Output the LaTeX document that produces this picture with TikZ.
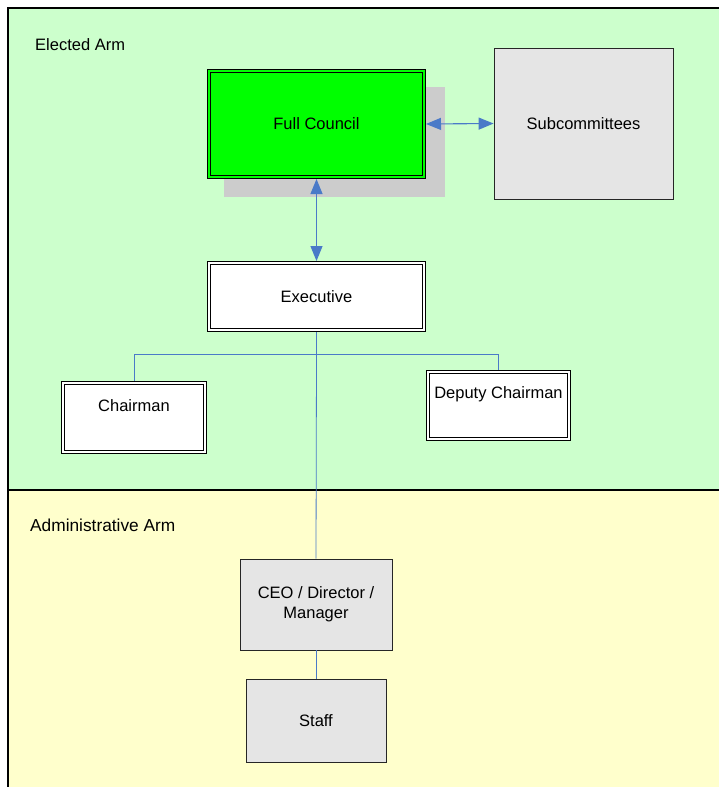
\documentclass[tikz,border=0pt]{standalone}
\usepackage{fontspec}
\setmainfont{Liberation Sans}
\usetikzlibrary{arrows.meta}

\definecolor{electedbg}{HTML}{CCFFCC}
\definecolor{adminbg}{HTML}{FFFFCC}
\definecolor{councilgreen}{HTML}{00FF00}
\definecolor{boxgray}{HTML}{E5E5E5}
\definecolor{shadowgray}{HTML}{CCCCCC}
\definecolor{linkblue}{HTML}{4A7AC8}

\tikzset{
  txt/.style={font=\fontsize{16.5}{20}\selectfont, text=black},
  dbox/.style={txt, draw=black, line width=1.2pt, double=white,
    double distance=1.6pt, outer sep=2pt, inner sep=0pt, align=center},
  gbox/.style={txt, draw=black!85, line width=0.8pt, fill=boxgray,
    inner sep=0pt, align=center},
  conn/.style={draw=linkblue, line width=0.8pt},
  arr/.style={draw=linkblue, line width=1.1pt,
    {Triangle[length=15pt,width=12pt]}-{Triangle[length=15pt,width=12pt]}},
  region/.style={txt, anchor=west, inner sep=0pt}
}

\begin{document}
\begin{tikzpicture}[x=1pt,y=-1pt]
  \useasboundingbox (0,0) rectangle (719,787);
  \fill[white] (0,0) rectangle (719,787);

  % the two arms
  \fill[electedbg] (8,8) rectangle (720,490);
  \fill[adminbg] (8,490) rectangle (720,788);
  \draw[black, line width=1.6pt] (720,8) -- (8,8) -- (8,788);
  \draw[black, line width=2pt] (8,490) -- (720,490);

  \node[region] (elected) at (35,45) {Elected Arm};
  \node[region, font=\fontsize{17.3}{20}\selectfont] (admin) at (30,525) {Administrative Arm};

  % Full Council with its drop shadow
  \fill[shadowgray] (224,87) rectangle (445,197);
  \node[dbox, double=councilgreen, fill=councilgreen,
        minimum width=215, minimum height=106] (fc) at (316.5,124) {Full Council};

  \node[gbox, minimum width=179, minimum height=151] (sub) at (583.5,123.5) {Subcommittees};

  \node[dbox, fill=white, minimum width=215, minimum height=67] (exec) at (316.5,296.5) {Executive};

  \node[dbox, fill=white, minimum width=142, minimum height=69,
        label={[txt, yshift=11.5pt]center:Chairman}] (chair) at (134,417.5) {};
  \node[dbox, fill=white, minimum width=141, minimum height=67,
        label={[txt, yshift=11.5pt]center:Deputy Chairman}] (dep) at (498.5,405.5) {};

  \node[gbox, minimum width=152, minimum height=91] (ceo) at (316,604.5) {CEO / Director /\\Manager};
  \node[gbox, minimum width=140, minimum height=83] (staff) at (316,720.5) {Staff};

  % connectors
  \draw[arr] (fc.east) -- (sub.west);
  \draw[arr] (fc.south) -- (exec.north);
  \draw[conn] (exec.south) -- ++(0,22) coordinate (split) -| (chair.north);
  \draw[conn] (split) -| (dep.north);
  \draw[conn] (split) -- (ceo.north);
  \draw[conn] (ceo.south) -- (staff.north);
\end{tikzpicture}
\end{document}
